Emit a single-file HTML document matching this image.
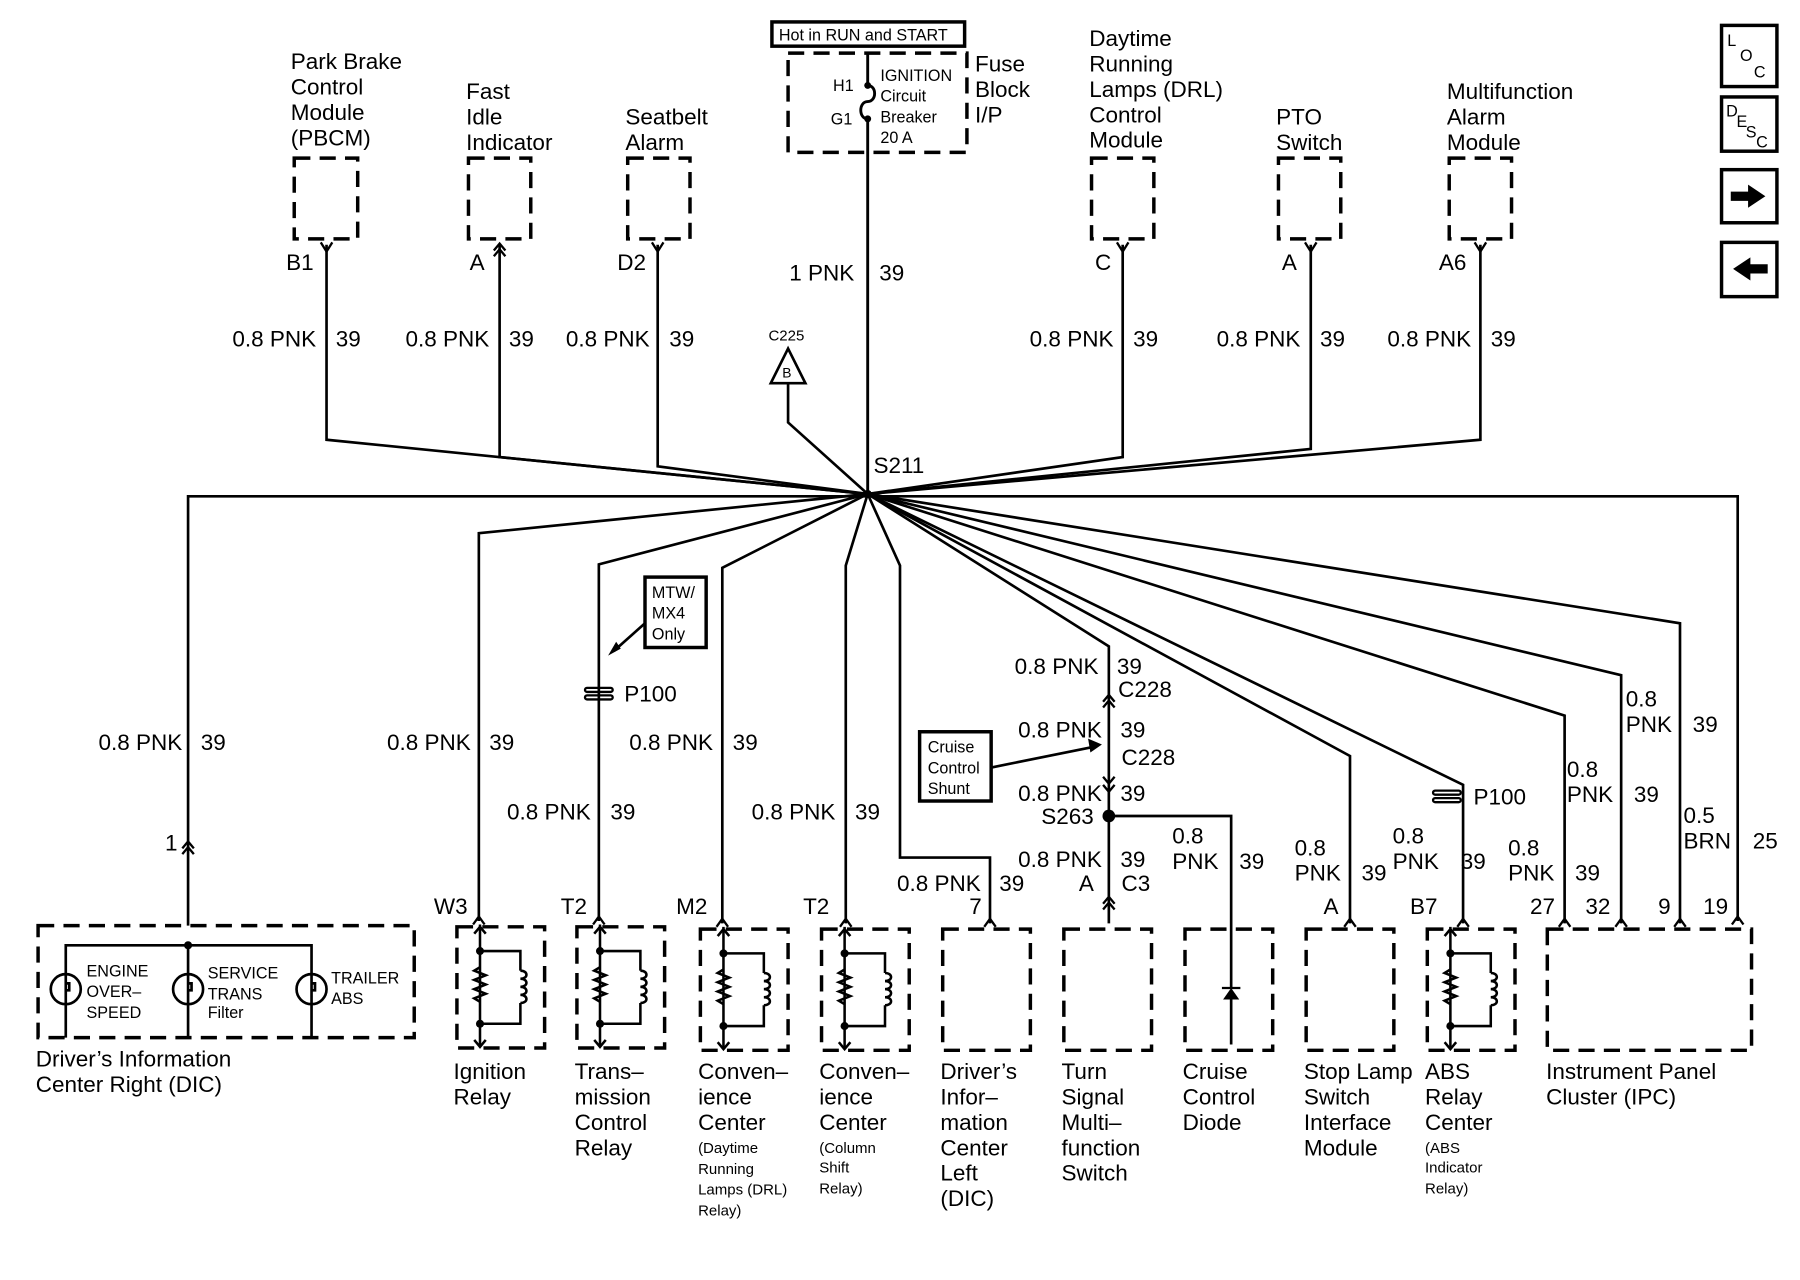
<!DOCTYPE html>
<html><head><meta charset="utf-8"><style>
html,body{margin:0;padding:0;background:#fff;}
svg{display:block;}
text{font-family:"Liberation Sans",sans-serif;fill:#000;}
</style></head><body>
<svg width="1800" height="1280" viewBox="0 0 1560 1109" preserveAspectRatio="none" xmlns="http://www.w3.org/2000/svg">
<defs>
<g id="relay" fill="none" stroke="#000" stroke-width="2.2">
<path d="M20 -2 V104"/>
<path d="M15 6 L20 0 L25 6 M15 98 L20 104 L25 98"/>
<path d="M20 21 H55 V38 M55 66 V84 H20"/>
<path d="M20 35 l-5 3 l10 4 l-10 4 l10 4 l-10 4 l10 4 l-10 4 l5 3"/>
<path d="M55 38 c7 0 7 7 0 7 c7 0 7 7 0 7 c7 0 7 7 0 7 c7 0 7 7 0 7"/>
<circle cx="20" cy="21" r="3.5" fill="#000" stroke="none"/>
<circle cx="20" cy="84" r="3.5" fill="#000" stroke="none"/>
</g>
<g id="fy" fill="none" stroke="#000" stroke-width="2"><path d="M-5 -5 L0 3 L5 -5"/></g>
<g id="up" fill="none" stroke="#000" stroke-width="2"><path d="M-5 4 L0 -3 L5 4"/></g>
<g id="mm" fill="none" stroke="#000" stroke-width="2"><path d="M-5 2 L0 -4 L5 2 M-5 7 L0 1 L5 7"/></g>
<g id="p100" fill="none" stroke="#000" stroke-width="2"><rect x="-12" y="-5" width="24" height="3.5" rx="1.7"/><rect x="-12" y="1.5" width="24" height="3.5" rx="1.7"/></g>
</defs>
<g font-size="19.5">
<!-- top component labels -->
<text x="252" y="60">Park Brake</text><text x="252" y="82">Control</text><text x="252" y="104">Module</text><text x="252" y="126">(PBCM)</text>
<text x="404" y="86">Fast</text><text x="404" y="108">Idle</text><text x="404" y="130">Indicator</text>
<text x="542" y="108">Seatbelt</text><text x="542" y="130">Alarm</text>
<text x="845" y="62">Fuse</text><text x="845" y="84">Block</text><text x="845" y="106">I/P</text>
<text x="944" y="40">Daytime</text><text x="944" y="62">Running</text><text x="944" y="84">Lamps (DRL)</text><text x="944" y="106">Control</text><text x="944" y="128">Module</text>
<text x="1106" y="108">PTO</text><text x="1106" y="130">Switch</text>
<text x="1254" y="86">Multifunction</text><text x="1254" y="108">Alarm</text><text x="1254" y="130">Module</text>
</g>
<g fill="none" stroke="#000" stroke-width="3" stroke-dasharray="14,8">
<rect x="255" y="137" width="55" height="70"/>
<rect x="406" y="137" width="54" height="70"/>
<rect x="544" y="137" width="54" height="70"/>
<rect x="946" y="137" width="54" height="70"/>
<rect x="1108" y="137" width="54" height="70"/>
<rect x="1256" y="137" width="54" height="70"/>
<rect x="683" y="46" width="155" height="86"/>
<rect x="33" y="802" width="326" height="97"/>
<rect x="396" y="803" width="76" height="105"/>
<rect x="500" y="803" width="76" height="105"/>
<rect x="607" y="805" width="76" height="105"/>
<rect x="712" y="805" width="76" height="105"/>
<rect x="817" y="805" width="76" height="105"/>
<rect x="922" y="805" width="76" height="105"/>
<rect x="1027" y="805" width="76" height="105"/>
<rect x="1132" y="805" width="76" height="105"/>
<rect x="1237" y="805" width="76" height="105"/>
<rect x="1341" y="805" width="177" height="105"/>
</g>
<!-- fuse -->
<rect x="669" y="19" width="167" height="21" fill="none" stroke="#000" stroke-width="3"/>
<text x="675" y="35" font-size="14">Hot in RUN and START</text>
<g font-size="14"><text x="722" y="79">H1</text><text x="720" y="108">G1</text>
<text x="763" y="70">IGNITION</text><text x="763" y="88">Circuit</text><text x="763" y="106">Breaker</text><text x="763" y="124">20 A</text></g>
<g fill="none" stroke="#000" stroke-width="2.5">
<path d="M752 46 V74 M752 103 V428"/>
<path d="M752 74 c8 0 8 14 0 14 c-8 0 -8 15 0 15"/>
</g>
<circle cx="752" cy="74" r="3" /><circle cx="752" cy="103" r="3"/>
<!-- wires -->
<g fill="none" stroke="#000" stroke-width="2.3">
<path d="M283 212 V381 L752 428"/>
<path d="M433 212 V396 L752 428"/>
<path d="M570 212 V404 L752 428"/>
<path d="M683 332 V366 L752 428"/>
<path d="M973 212 V396 L752 428"/>
<path d="M1136 212 V389 L752 428"/>
<path d="M1283 212 V381 L752 428"/>
<path d="M752 430 H163 V802"/>
<path d="M752 430 H1506 V798"/>
<path d="M752 428 L415 462 V798"/>
<path d="M752 428 L519 489 V798"/>
<path d="M752 428 L626 492 V800"/>
<path d="M752 428 L733 490 V800"/>
<path d="M752 428 L780 490 V743 H858 V800"/>
<path d="M752 428 L961 560 V800"/>
<path d="M752 428 L1170 655 V800"/>
<path d="M752 428 L1268 680 V800"/>
<path d="M752 428 L1356 620 V800"/>
<path d="M752 428 L1405 585 V800"/>
<path d="M752 428 L1456 540 V800"/>
<path d="M961 707 H1067 V856 M1067 866 V905"/>
<path d="M668 332 L683 302 L698 332 Z"/>
<path d="M559 540 L532 564"/>
<path d="M859 665 L948 647"/>
</g>
<circle cx="752" cy="428" r="3.5"/>
<circle cx="961" cy="707" r="5.5"/>
<path d="M1060 866 L1074 866 L1067 856 Z"/><path d="M1059 856 H1075" stroke="#000" stroke-width="2"/>
<path d="M527 568 L534 556 L538 562 Z"/>
<path d="M955 645 L943 640 L945 652 Z"/>
<g stroke-width="3" stroke="#000" fill="none">
<rect x="559" y="500" width="53" height="61"/>
<rect x="797" y="634" width="62" height="60"/>
</g>
<g font-size="14"><text x="565" y="518">MTW/</text><text x="565" y="536">MX4</text><text x="565" y="554">Only</text>
<text x="804" y="652">Cruise</text><text x="804" y="670">Control</text><text x="804" y="688">Shunt</text></g>
<text x="666" y="295" font-size="13">C225</text><text x="678" y="327" font-size="12">B</text>
<!-- connectors -->
<use href="#fy" x="283" y="215"/><use href="#mm" x="433" y="215"/><use href="#fy" x="570" y="215"/>
<use href="#fy" x="973" y="215"/><use href="#fy" x="1136" y="215"/><use href="#fy" x="1283" y="215"/>
<use href="#mm" x="163" y="733"/>
<use href="#up" x="415" y="797"/><use href="#up" x="519" y="797"/><use href="#up" x="626" y="799"/><use href="#up" x="733" y="799"/>
<use href="#up" x="858" y="799"/><use href="#mm" x="961" y="781"/><use href="#up" x="1170" y="799"/><use href="#up" x="1268" y="799"/>
<use href="#up" x="1356" y="799"/><use href="#up" x="1405" y="799"/><use href="#up" x="1456" y="799"/><use href="#up" x="1506" y="797"/>
<use href="#mm" x="961" y="606"/>
<g fill="none" stroke="#000" stroke-width="2"><path d="M956 673 L961 679 L966 673 M956 680 L961 686 L966 680"/></g>
<use href="#p100" x="519" y="601"/><use href="#p100" x="1254" y="690"/>
<use href="#relay" x="396" y="803"/><use href="#relay" x="500" y="803"/><use href="#relay" x="607" y="805"/>
<use href="#relay" x="712" y="805"/><use href="#relay" x="1237" y="805"/>
<!-- DIC right internals -->
<g fill="none" stroke="#000" stroke-width="2.3">
<path d="M57 899 V819 H270 V899 M163 819 V899"/>
<circle cx="57" cy="857" r="13"/><circle cx="163" cy="857" r="13"/><circle cx="270" cy="857" r="13"/>
<path d="M57 852 h3 v6 h-3 M163 852 h3 v6 h-3 M270 852 h3 v6 h-3"/>
</g>
<circle cx="163" cy="819" r="3.5"/>
<g font-size="14"><text x="75" y="846">ENGINE</text><text x="75" y="864">OVER–</text><text x="75" y="882">SPEED</text>
<text x="180" y="848">SERVICE</text><text x="180" y="866">TRANS</text><text x="180" y="882">Filter</text>
<text x="287" y="852">TRAILER</text><text x="287" y="870">ABS</text></g>
<!-- wire labels -->
<g font-size="19.5">
<text x="248" y="234">B1</text><text x="407" y="234">A</text><text x="535" y="234">D2</text><text x="949" y="234">C</text><text x="1111" y="234">A</text><text x="1247" y="234">A6</text>
<text x="684" y="243">1 PNK</text><text x="762" y="243">39</text>
<text x="274" y="300" text-anchor="end">0.8 PNK</text><text x="291" y="300">39</text>
<text x="424" y="300" text-anchor="end">0.8 PNK</text><text x="441" y="300">39</text>
<text x="563" y="300" text-anchor="end">0.8 PNK</text><text x="580" y="300">39</text>
<text x="965" y="300" text-anchor="end">0.8 PNK</text><text x="982" y="300">39</text>
<text x="1127" y="300" text-anchor="end">0.8 PNK</text><text x="1144" y="300">39</text>
<text x="1275" y="300" text-anchor="end">0.8 PNK</text><text x="1292" y="300">39</text>
<text x="757" y="410">S211</text>
<text x="158" y="650" text-anchor="end">0.8 PNK</text><text x="174" y="650">39</text>
<text x="143" y="737">1</text>
<text x="408" y="650" text-anchor="end">0.8 PNK</text><text x="424" y="650">39</text>
<text x="541" y="608">P100</text>
<text x="512" y="710" text-anchor="end">0.8 PNK</text><text x="529" y="710">39</text>
<text x="618" y="650" text-anchor="end">0.8 PNK</text><text x="635" y="650">39</text>
<text x="724" y="710" text-anchor="end">0.8 PNK</text><text x="741" y="710">39</text>
<text x="850" y="772" text-anchor="end">0.8 PNK</text><text x="866" y="772">39</text><text x="840" y="792">7</text>
<text x="952" y="584" text-anchor="end">0.8 PNK</text><text x="968" y="584">39</text><text x="969" y="604">C228</text>
<text x="955" y="639" text-anchor="end">0.8 PNK</text><text x="971" y="639">39</text><text x="972" y="663">C228</text>
<text x="955" y="694" text-anchor="end">0.8 PNK</text><text x="971" y="694">39</text><text x="948" y="714" text-anchor="end">S263</text>
<text x="955" y="751" text-anchor="end">0.8 PNK</text><text x="971" y="751">39</text><text x="935" y="772">A</text><text x="972" y="772">C3</text>
<text x="1016" y="731">0.8</text><text x="1016" y="753">PNK</text><text x="1074" y="753">39</text>
<text x="1122" y="741">0.8</text><text x="1122" y="763">PNK</text><text x="1180" y="763">39</text><text x="1147" y="792">A</text>
<text x="1277" y="697">P100</text>
<text x="1207" y="731">0.8</text><text x="1207" y="753">PNK</text><text x="1266" y="753">39</text><text x="1222" y="792">B7</text>
<text x="1307" y="741">0.8</text><text x="1307" y="763">PNK</text><text x="1365" y="763">39</text><text x="1326" y="792">27</text>
<text x="1358" y="673">0.8</text><text x="1358" y="695">PNK</text><text x="1416" y="695">39</text><text x="1374" y="792">32</text>
<text x="1409" y="612">0.8</text><text x="1409" y="634">PNK</text><text x="1467" y="634">39</text><text x="1437" y="792">9</text>
<text x="1459" y="713">0.5</text><text x="1459" y="735">BRN</text><text x="1519" y="735">25</text><text x="1476" y="792">19</text>
<text x="376" y="792">W3</text><text x="486" y="792">T2</text><text x="586" y="792">M2</text><text x="696" y="792">T2</text>
<!-- bottom labels -->
<text x="31" y="924">Driver’s Information</text><text x="31" y="946">Center Right (DIC)</text>
<text x="393" y="935">Ignition</text><text x="393" y="957">Relay</text>
<text x="498" y="935">Trans–</text><text x="498" y="957">mission</text><text x="498" y="979">Control</text><text x="498" y="1001">Relay</text>
<text x="605" y="935">Conven–</text><text x="605" y="957">ience</text><text x="605" y="979">Center</text>
<text x="710" y="935">Conven–</text><text x="710" y="957">ience</text><text x="710" y="979">Center</text>
<text x="815" y="935">Driver’s</text><text x="815" y="957">Infor–</text><text x="815" y="979">mation</text><text x="815" y="1001">Center</text><text x="815" y="1023">Left</text><text x="815" y="1045">(DIC)</text>
<text x="920" y="935">Turn</text><text x="920" y="957">Signal</text><text x="920" y="979">Multi–</text><text x="920" y="1001">function</text><text x="920" y="1023">Switch</text>
<text x="1025" y="935">Cruise</text><text x="1025" y="957">Control</text><text x="1025" y="979">Diode</text>
<text x="1130" y="935">Stop Lamp</text><text x="1130" y="957">Switch</text><text x="1130" y="979">Interface</text><text x="1130" y="1001">Module</text>
<text x="1235" y="935">ABS</text><text x="1235" y="957">Relay</text><text x="1235" y="979">Center</text>
<text x="1340" y="935">Instrument Panel</text><text x="1340" y="957">Cluster (IPC)</text>
</g>
<g font-size="13">
<text x="605" y="999">(Daytime</text><text x="605" y="1017">Running</text><text x="605" y="1035">Lamps (DRL)</text><text x="605" y="1053">Relay)</text>
<text x="710" y="999">(Column</text><text x="710" y="1016">Shift</text><text x="710" y="1034">Relay)</text>
<text x="1235" y="999">(ABS</text><text x="1235" y="1016">Indicator</text><text x="1235" y="1034">Relay)</text>
</g>
<!-- right icons -->
<g fill="none" stroke="#000" stroke-width="3">
<rect x="1492" y="22" width="48" height="53"/><rect x="1492" y="84" width="48" height="47"/>
<rect x="1492" y="147" width="48" height="46"/><rect x="1492" y="210" width="48" height="47"/>
</g>
<g font-size="14"><text x="1497" y="40">L</text><text x="1508" y="53">O</text><text x="1520" y="67">C</text>
<text x="1496" y="101">D</text><text x="1505" y="110">E</text><text x="1513" y="119">S</text><text x="1522" y="128">C</text></g>
<path d="M1500 166 H1515 V160 L1530 170 L1515 180 V174 H1500 Z"/>
<path d="M1532 229 H1517 V223 L1502 233 L1517 243 V237 H1532 Z"/>
</svg>
</body></html>
